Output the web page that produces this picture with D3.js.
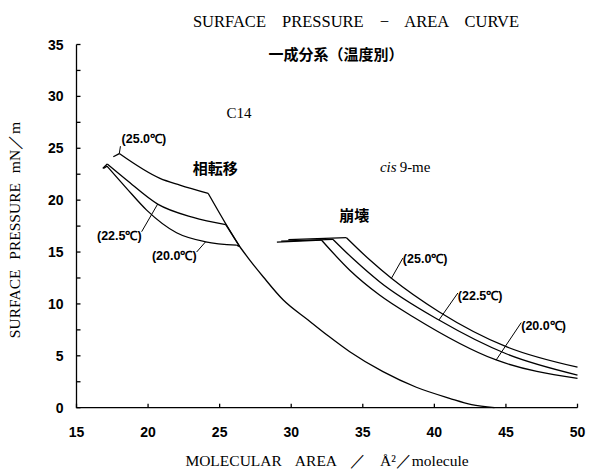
<!DOCTYPE html>
<html>
<head>
<meta charset="utf-8">
<script src="https://cdn.jsdelivr.net/npm/d3@7"></script>
<style>
  html, body { margin: 0; padding: 0; background: #fff; }
  svg { display: block; }
  .serif { font-family: "Liberation Serif", "DejaVu Serif", serif; }
  .num { font-family: "Liberation Sans", Arial, sans-serif; font-weight: bold; }
  .cjk { font-family: "Noto Sans CJK JP", sans-serif; font-weight: bold; }
</style>
</head>
<body>
<div id="chart"></div>
<script>
// Surface pressure - area isotherms, C14 vs cis 9-me
const X_TICKS = [15, 20, 25, 30, 35, 40, 45, 50];
const Y_TICKS = [0, 5, 10, 15, 20, 25, 30, 35];
const Y_MINOR = d3.range(0, 35.01, 2.5);

// C14 branch, one per temperature, up to where they merge
const c14_250 = [[17.57, 24.18], [17.99, 24.49], [20.83, 22.1], [22.22, 21.45], [24.2, 20.65], [25.48, 17.6], [26.41, 15.51]];
const c14_225 = [[16.83, 23.06], [17.15, 23.48], [18.5, 21.94], [20.67, 19.62], [23.15, 18.34], [25.43, 17.65], [26.41, 15.51]];
const c14_200 = [[16.88, 23.05], [17.13, 23.28], [18.5, 21.14], [19.9, 19.04], [21.99, 16.86], [24.02, 15.99], [26.18, 15.67], [26.41, 15.51]];
// shared expanded part after the phase transition
const c14_common = [[26.41, 15.51], [27.2, 14.05], [28.04, 12.62], [29.43, 10.4], [31.18, 8.45], [32.6, 6.9],
  [34.09, 5.39], [36.41, 3.47], [38.74, 1.97], [41.06, 0.91], [42.6, 0.3], [44.2, 0]];

// cis 9-me
const cis_250 = [[29.8, 16.2], [33.86, 16.38], [35.48, 14.25], [37.0, 12.47], [40.32, 9.25], [45.02, 5.88], [50, 3.9]];
const cis_225 = [[29.3, 16.05], [32.92, 16.22], [34.4, 14.25], [36.17, 12.14], [40.32, 8.45], [45.02, 5.2], [50, 3.15]];
const cis_200 = [[29.0, 15.95], [32.11, 16.16], [34.09, 13.25], [36.17, 10.86], [38.5, 8.77], [44.32, 4.6], [50, 2.83]];

// corner indices (curve is smooth between them)
const curves = [
  { pts: c14_250, kinks: [1, 4] },
  { pts: c14_225, kinks: [1, 5] },
  { pts: c14_200, kinks: [1, 6] },
  { pts: c14_common, kinks: [] },
  { pts: cis_250, kinks: [1] },
  { pts: cis_225, kinks: [1] },
  { pts: cis_200, kinks: [1] },
];

// temperature labels: text, anchor point (data units), leader from -> to
const tempLabels = [
  { text: '(25.0℃)', at: [18.15, 25.5], anchor: 'start', from: [18.07, 25.2], to: [17.99, 24.49] },
  { text: '(22.5℃)', at: [19.55, 16.16], anchor: 'end', from: [19.55, 16.96], to: [20.67, 19.62] },
  { text: '(20.0℃)', at: [23.39, 14.23], anchor: 'end', from: [23.39, 15.0], to: [24.02, 15.99] },
  { text: '(25.0℃)', at: [37.8, 13.9], anchor: 'start', from: [37.8, 14.42], to: [37.0, 12.47] },
  { text: '(22.5℃)', at: [41.64, 10.38], anchor: 'start', from: [41.64, 11.05], to: [40.32, 8.45] },
  { text: '(20.0℃)', at: [46.07, 7.49], anchor: 'start', from: [46.07, 8.2], to: [44.32, 4.6] },
];

const W = 590, H = 470;
const x = d3.scaleLinear().domain([15, 50]).range([76.5, 577.5]);
const y = d3.scaleLinear().domain([0, 35]).range([407.7, 44.5]);

const svg = d3.select('#chart').append('svg').attr('width', W).attr('height', H);

// axes: left + bottom, ticks pointing inward
const ax = svg.append('g').attr('stroke', '#000').attr('stroke-width', 1.3).attr('fill', 'none');
ax.append('path').attr('d', `M${x(15)},${y(35)}V${y(0)}H${x(50)}`);
ax.selectAll('line.yt').data(Y_MINOR).join('line')
  .attr('class', 'yt')
  .attr('x1', x(15)).attr('x2', x(15) + 4)
  .attr('y1', d => y(d)).attr('y2', d => y(d));
ax.selectAll('line.xt').data(X_TICKS).join('line')
  .attr('class', 'xt')
  .attr('x1', d => x(d)).attr('x2', d => x(d))
  .attr('y1', y(0)).attr('y2', y(0) - 4);

svg.selectAll('text.ylab').data(Y_TICKS).join('text')
  .attr('class', 'ylab num')
  .attr('x', x(15) - 13).attr('y', d => y(d)).attr('dy', '0.36em')
  .attr('text-anchor', 'end').attr('font-size', 14)
  .text(d => d);
svg.selectAll('text.xlab').data(X_TICKS).join('text')
  .attr('class', 'xlab num')
  .attr('x', d => x(d)).attr('y', y(0) + 29)
  .attr('text-anchor', 'middle').attr('font-size', 14)
  .text(d => d);

// curves
const line = d3.line().x(d => x(d[0])).y(d => y(d[1])).curve(d3.curveMonotoneX);
const cg = svg.append('g').attr('fill', 'none').attr('stroke', '#000').attr('stroke-width', 1.3);
for (const c of curves) {
  const cuts = [0, ...c.kinks, c.pts.length - 1];
  for (let i = 0; i < cuts.length - 1; i++) {
    cg.append('path').attr('d', line(c.pts.slice(cuts[i], cuts[i + 1] + 1)));
  }
}

// temperature labels + leaders
const lg = svg.append('g');
lg.selectAll('line').data(tempLabels).join('line')
  .attr('stroke', '#000').attr('stroke-width', 1)
  .attr('x1', d => x(d.from[0])).attr('y1', d => y(d.from[1]))
  .attr('x2', d => x(d.to[0])).attr('y2', d => y(d.to[1]));
lg.selectAll('text').data(tempLabels).join('text')
  .attr('class', 'num')
  .attr('x', d => x(d.at[0])).attr('y', d => y(d.at[1]))
  .attr('text-anchor', d => d.anchor).attr('font-size', 12.5)
  .text(d => d.text);

// annotations
svg.append('text').attr('class', 'serif').attr('x', x(26.35)).attr('y', y(27.9))
  .attr('text-anchor', 'middle').attr('font-size', 15).text('C14');
svg.append('text').attr('class', 'cjk').attr('x', x(24.7)).attr('y', y(22.5))
  .attr('text-anchor', 'middle').attr('font-size', 15).text('相転移');
svg.append('text').attr('class', 'cjk').attr('x', x(34.4)).attr('y', y(18.0))
  .attr('text-anchor', 'middle').attr('font-size', 15).text('崩壊');
const cis = svg.append('text').attr('class', 'serif').attr('x', x(36.2)).attr('y', y(22.7))
  .attr('font-size', 15);
cis.append('tspan').attr('font-style', 'italic').text('cis');
cis.append('tspan').attr('dx', 3).text('9-me');

// titles
svg.append('text').attr('class', 'serif').attr('x', 356).attr('y', 27)
  .attr('text-anchor', 'middle').attr('font-size', 16.5).style('word-spacing', '12px')
  .text('SURFACE PRESSURE − AREA CURVE');
svg.append('text').attr('class', 'cjk').attr('x', 336).attr('y', 60)
  .attr('text-anchor', 'middle').attr('font-size', 15)
  .text('一成分系（温度別）');
svg.append('text').attr('class', 'serif').attr('x', 327).attr('y', 466)
  .attr('text-anchor', 'middle').attr('font-size', 15.5).style('word-spacing', '10px')
  .text('MOLECULAR AREA ／ Å²／molecule');
svg.append('text').attr('class', 'serif')
  .attr('transform', 'translate(20,230) rotate(-90)')
  .attr('text-anchor', 'middle').attr('font-size', 15.5).style('word-spacing', '6px')
  .text('SURFACE PRESSURE mN／m');
</script>
</body>
</html>
